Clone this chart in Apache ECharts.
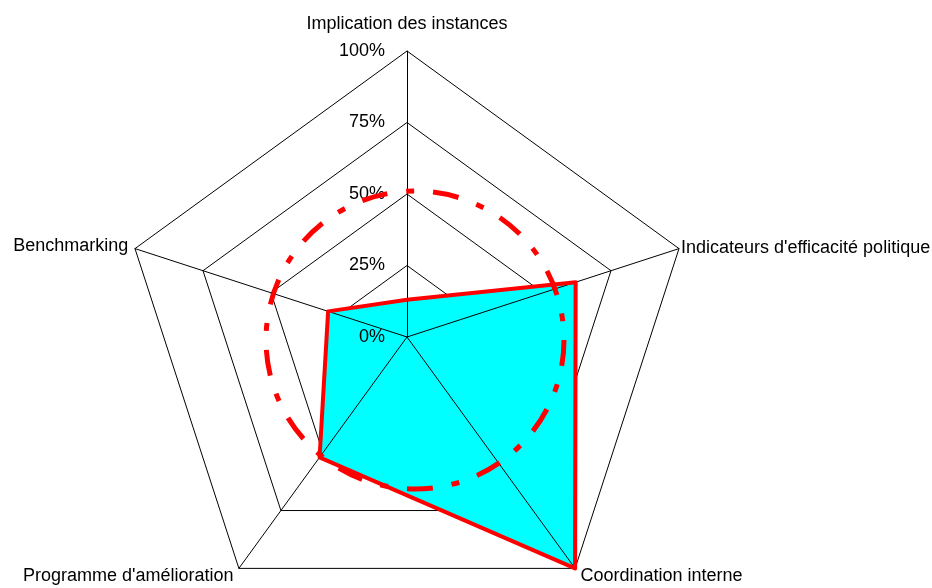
<!DOCTYPE html>
<html>
<head>
<meta charset="utf-8">
<script src="https://cdn.jsdelivr.net/npm/echarts@6/dist/echarts.min.js"></script>
<style>
  html, body { margin: 0; padding: 0; background: #fff; }
  #chart { width: 932px; height: 588px; }
</style>
</head>
<body>
<div id="chart"></div>
<script>
// Axes of the radar, counter-clockwise from the top
const indicatorNames = [
  'Implication des instances',
  'Benchmarking',
  "Programme d'amélioration",
  'Coordination interne',
  "Indicateurs d'efficacité politique"
];
// Score per axis, in percent
const scores = [13, 29, 52, 100, 62];
// Scale of each axis (percent)
const axisMax = 100;
const axisSplits = 4;

const FONT = "'Liberation Sans', Arial, sans-serif";
const CENTER = [407, 337];
const RADIUS = 286;
const nameGaps = [18, 7, 9, 9, 2];

const chart = echarts.init(document.getElementById('chart'), null, { renderer: 'canvas' });

const plainIndicators = indicatorNames.map(() => ({ name: '', max: axisMax, min: 0 }));

const labelledIndicators = indicatorNames.map((name, i) => {
  const ind = { name: name, max: axisMax, min: 0, nameGap: nameGaps[i] };
  if (i === 0) {
    ind.axisLabel = { show: true };
  }
  return ind;
});

const option = {
  backgroundColor: '#ffffff',
  animation: false,
  radar: [
    {
      // concentric pentagons, drawn beneath the filled area
      center: CENTER,
      radius: RADIUS,
      startAngle: 90,
      shape: 'polygon',
      splitNumber: axisSplits,
      indicator: plainIndicators,
      z: 0,
      axisName: { show: false },
      axisLine: { show: false },
      axisTick: { show: false },
      axisLabel: { show: false },
      splitArea: { show: false },
      splitLine: { show: true, lineStyle: { color: '#000', width: 1 } }
    },
    {
      // spokes, axis names and percent labels, drawn over the fill
      center: CENTER,
      radius: RADIUS,
      startAngle: 90,
      shape: 'polygon',
      splitNumber: axisSplits,
      indicator: labelledIndicators,
      z: 2,
      axisName: {
        color: '#000',
        fontFamily: FONT,
        fontSize: 18
      },
      axisLine: { show: true, lineStyle: { color: '#000', width: 1 } },
      splitLine: { show: false },
      splitArea: { show: false },
      axisTick: { show: false },
      axisLabel: {
        show: false,
        color: '#000',
        fontFamily: FONT,
        fontSize: 18,
        margin: 22,
        formatter: v => v + '%'
      }
    },
    {
      // dash-dot 50% reference ring
      center: [415, 340],
      radius: 149,
      startAngle: 90,
      shape: 'circle',
      splitNumber: 1,
      z: 4,
      indicator: plainIndicators,
      axisName: { show: false },
      axisLine: { show: false },
      axisTick: { show: false },
      axisLabel: { show: false },
      splitArea: { show: false },
      splitLine: {
        show: true,
        lineStyle: { color: '#ff0000', width: 5, type: [26, 19, 8, 19] }
      }
    }
  ],
  series: [
    {
      type: 'radar',
      radarIndex: 0,
      z: 1,
      symbol: 'none',
      lineStyle: { width: 0, opacity: 0 },
      areaStyle: { color: '#00ffff', opacity: 1 },
      data: [{ value: scores }]
    },
    {
      type: 'radar',
      radarIndex: 0,
      z: 3,
      symbol: 'none',
      lineStyle: { color: '#ff0000', width: 4 },
      data: [{ value: scores }]
    }
  ]
};

chart.setOption(option);
</script>
</body>
</html>
